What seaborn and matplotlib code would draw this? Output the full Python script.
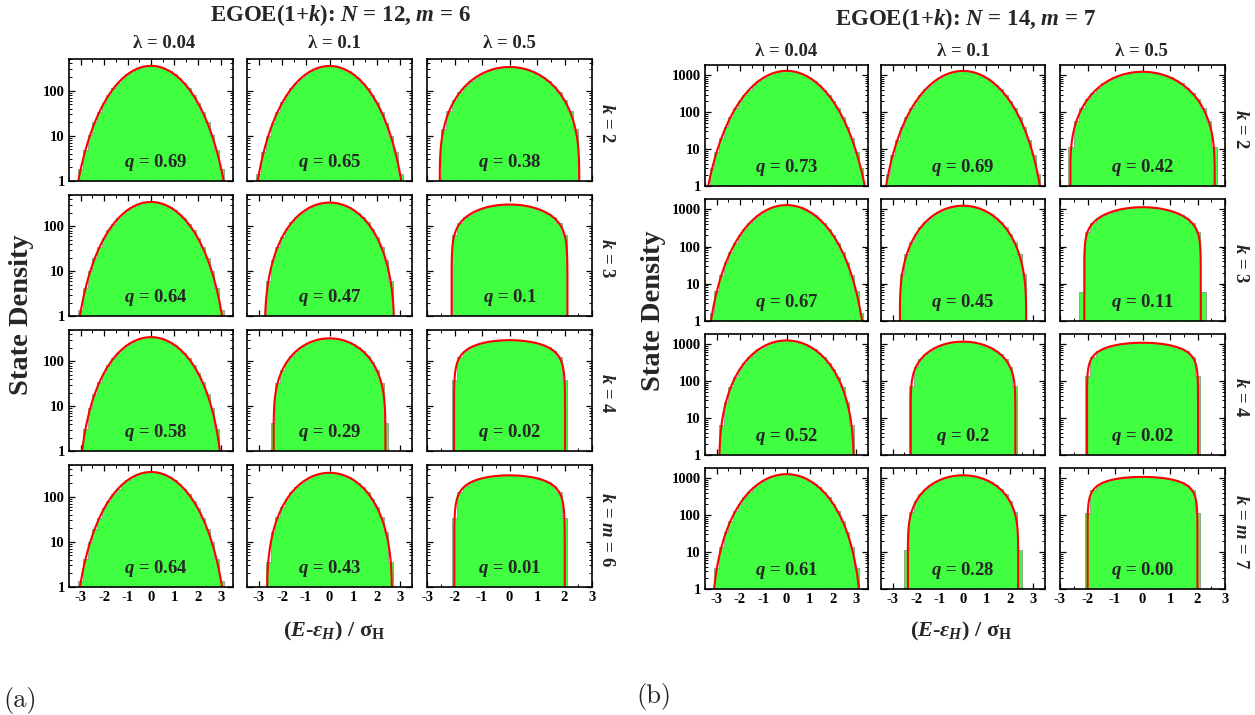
import math
import numpy as np
import pandas as pd
import matplotlib
matplotlib.use("Agg")
import matplotlib.pyplot as plt
from matplotlib.ticker import LogLocator, NullFormatter, MultipleLocator, FixedLocator
import seaborn as sns

# ------------------------------------------------------------------ data
panel_tags = ["(a)", "(b)"]
N_vals = [12, 14]
m_vals = [6, 7]
lambda_labels = ["0.04", "0.1", "0.5"]
row_labels_a = ["$k$ = 2", "$k$ = 3", "$k$ = 4", "$k$ = $m$ = 6"]
row_labels_b = ["$k$ = 2", "$k$ = 3", "$k$ = 4", "$k$ = $m$ = 7"]
q_a = [[0.69, 0.65, 0.38],
       [0.64, 0.47, 0.10],
       [0.58, 0.29, 0.02],
       [0.64, 0.43, 0.01]]
q_a_text = [["0.69", "0.65", "0.38"],
            ["0.64", "0.47", "0.1"],
            ["0.58", "0.29", "0.02"],
            ["0.64", "0.43", "0.01"]]
q_b = [[0.73, 0.69, 0.42],
       [0.67, 0.45, 0.11],
       [0.52, 0.20, 0.02],
       [0.61, 0.28, 0.00]]
q_b_text = [["0.73", "0.69", "0.42"],
            ["0.67", "0.45", "0.11"],
            ["0.52", "0.2", "0.02"],
            ["0.61", "0.28", "0.00"]]
yticks_a = [1, 10, 100]
yticks_b = [1, 10, 100, 1000]
ymax_a = 500
ymax_b = 1900
xticks = [-3, -2, -1, 0, 1, 2, 3]
xtick_labels = ["-3", "-2", "-1", "0", "1", "2", "3"]
bin_width = 0.2


def qnormal(x, q, K=300):
    """q-normal density f_qN(x|q) (unit variance)."""
    x = np.asarray(x, float)
    s = 1.0 - q
    arg = 4.0 - s * x ** 2
    out = np.zeros_like(x)
    ok = arg > 0
    kk = np.arange(K)
    qk = q ** kk
    pref = np.prod(1.0 - q ** (kk + 1))
    xx = x[ok][:, None]
    terms = (1.0 + qk) ** 2 - s * xx ** 2 * qk
    out[ok] = np.sqrt(s) * pref / (2 * np.pi * np.sqrt(arg[ok])) * np.prod(terms, axis=1)
    return out


# ------------------------------------------------------------------ style
sns.set_style("ticks")
plt.rcParams["font.family"] = ["Liberation Serif", "DejaVu Serif"]
plt.rcParams["font.weight"] = "bold"
plt.rcParams["mathtext.fontset"] = "custom"
plt.rcParams["mathtext.rm"] = "Liberation Serif:bold"
plt.rcParams["mathtext.bf"] = "Liberation Serif:bold"
plt.rcParams["mathtext.it"] = "Liberation Serif:bold:italic"
plt.rcParams["axes.unicode_minus"] = False

GREEN = "#40FF40"
EDGE = "#8a9a8a"
RED = "#FF0000"

W, H = 1255, 715
fig = plt.figure(figsize=(W / 100, H / 100), dpi=100)


def rect(x0, x1, y0, y1):
    return [x0 / W, 1 - y1 / H, (x1 - x0) / W, (y1 - y0) / H]


layouts = [
    dict(cols=[(69, 233), (247, 412), (427, 592)],
         rows=[(59, 181), (195, 316), (330, 451), (465, 587)],
         q=q_a, qt=q_a_text, rowlab=row_labels_a, yt=yticks_a, ymax=ymax_a,
         title_xy=(340, 15), head_x=[164, 334, 509.5], head_y=43, q_xfrac=[0.53, 0.5, 0.5],
         rowlab_x=607, ylab_xy=(22, 315), xlab_xy=(334, 631), tag_xy=(20, 700)),
    dict(cols=[(705, 868), (881, 1045), (1060, 1225)],
         rows=[(65, 186), (199, 321), (334, 455), (468, 589)],
         q=q_b, qt=q_b_text, rowlab=row_labels_b, yt=yticks_b, ymax=ymax_b,
         title_xy=(966, 19), head_x=[786, 963, 1141], head_y=51, q_xfrac=[0.5, 0.5, 0.5],
         rowlab_x=1240, ylab_xy=(653, 311), xlab_xy=(961, 631), tag_xy=(654, 697)),
]

edges = np.round(np.arange(-3.5, 3.5 + 1e-9, bin_width), 6)
centers = 0.5 * (edges[:-1] + edges[1:])
sub = edges[:-1, None] + (np.arange(24) + 0.5)[None, :] / 24 * bin_width

for p, L in enumerate(layouts):
    dim = math.comb(N_vals[p], m_vals[p])
    for r, (y0, y1) in enumerate(L["rows"]):
        for c, (x0, x1) in enumerate(L["cols"]):
            ax = fig.add_axes(rect(x0, x1, y0, y1))
            q = L["q"][r][c]
            heights = dim * qnormal(sub.ravel(), q).reshape(sub.shape).mean(axis=1)
            hdf = pd.DataFrame({"x": centers, "w": heights})
            sns.histplot(data=hdf, x="x", weights="w", binwidth=bin_width,
                         binrange=(-3.5, 3.5), element="step",
                         fill=True, color=GREEN, alpha=1, edgecolor=EDGE,
                         linewidth=0.6, ax=ax)
            lim = min(2 / np.sqrt(1 - q), 3.7)
            xs = np.linspace(-lim, lim, 3001)
            ldf = pd.DataFrame({"x": xs, "y": dim * qnormal(xs, q)})
            sns.lineplot(data=ldf, x="x", y="y", color=RED, linewidth=1.5,
                         sort=False, estimator=None, ax=ax)
            ax.set_yscale("log")
            xr = 3.0 if c == 2 else 3.5
            ax.set_xlim(-xr, xr)
            ax.set_ylim(1, L["ymax"])
            ax.set_xlabel("")
            ax.set_ylabel("")
            ax.xaxis.set_major_locator(FixedLocator(xticks))
            ax.xaxis.set_minor_locator(MultipleLocator(0.5))
            ax.yaxis.set_major_locator(FixedLocator(L["yt"]))
            ax.yaxis.set_minor_locator(LogLocator(base=10, subs=np.arange(2, 10)))
            ax.yaxis.set_minor_formatter(NullFormatter())
            if r == len(L["rows"]) - 1:
                ax.set_xticklabels(xtick_labels)
            else:
                ax.set_xticklabels([])
            if c == 0:
                ax.set_yticklabels([str(v) for v in L["yt"]])
            else:
                ax.set_yticklabels([])
            ax.tick_params(which="both", direction="in", top=True, right=True,
                           labelsize=10.5, pad=3, colors="black")
            ax.tick_params(which="major", length=4, width=0.9)
            ax.tick_params(which="minor", length=2.5, width=0.7)
            for sp in ax.spines.values():
                sp.set_linewidth(1.2)
                sp.set_color("black")
                sp.set_visible(True)
            ax.text(L["q_xfrac"][c], 0.15, "$q$ = " + L["qt"][r][c],
                    transform=ax.transAxes, ha="center", va="center",
                    fontsize=13.5, fontweight="bold")
        # row label
        yc = 0.5 * (y0 + y1) + 3
        fig.text(L["rowlab_x"] / W, 1 - yc / H, L["rowlab"][r], rotation=270,
                 ha="center", va="center", fontsize=13.5, fontweight="bold")
    # column headers
    for c, hx in enumerate(L["head_x"]):
        fig.text(hx / W, 1 - L["head_y"] / H, "λ = " + lambda_labels[c],
                 ha="center", va="center", fontsize=13.5, fontweight="bold")
    tx, ty = L["title_xy"]
    fig.text(tx / W, 1 - ty / H,
             "EGOE(1+$k$): $N$ = %d, $m$ = %d" % (N_vals[p], m_vals[p]),
             ha="center", va="center", fontsize=16.5, fontweight="bold")
    lx, ly = L["ylab_xy"]
    fig.text(lx / W, 1 - ly / H, "State Density", rotation=90, ha="center",
             va="center", fontsize=20.5, fontweight="bold")
    xx, xy = L["xlab_xy"]
    fig.text(xx / W, 1 - xy / H, r"($E$-$\varepsilon_{H}$) / σ$_{\mathrm{H}}$",
             ha="center", va="center", fontsize=16, fontweight="bold")
    gx, gy = L["tag_xy"]
    fig.text(gx / W, 1 - gy / H, panel_tags[p], ha="center", va="center",
             fontsize=19, fontfamily="cmr10", fontweight="normal")

fig.savefig("out.png", dpi=100, facecolor="white")
